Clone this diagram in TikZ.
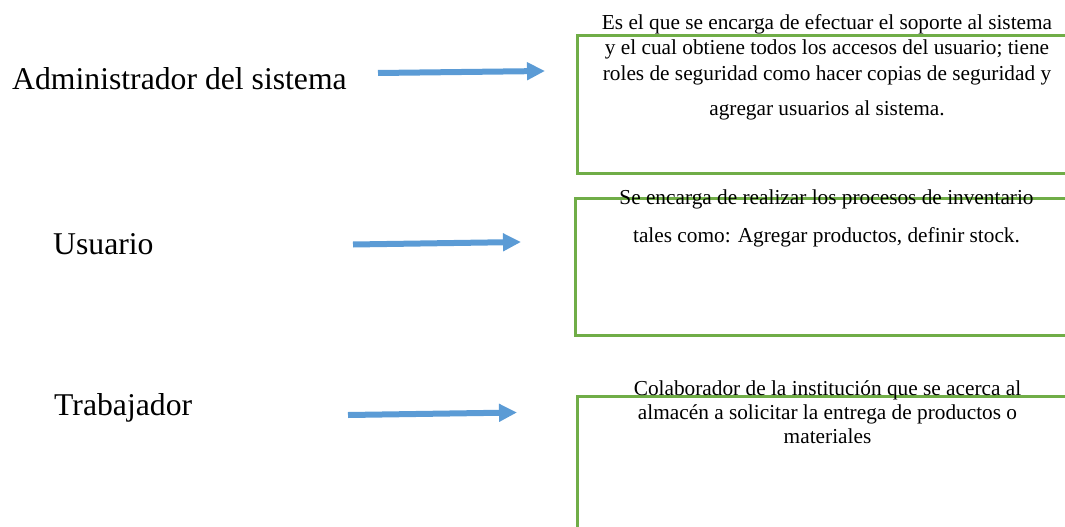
\documentclass[tikz,border=0pt]{standalone}
\usepackage{fontspec}
\setmainfont{Liberation Serif}
\usetikzlibrary{arrows.meta}
\definecolor{boxgreen}{HTML}{70AD47}
\definecolor{arrowblue}{HTML}{5B9BD5}
\begin{document}
\begin{tikzpicture}[x=1pt,y=-1pt,
  rolelabel/.style={anchor=base west,inner sep=0pt,font=\fontsize{31.7}{37}\selectfont},
  desc/.style={anchor=base,inner sep=0pt,align=center,font=\fontsize{21.3}{25.5}\selectfont},
  descbox/.style={draw=boxgreen,line width=3pt},
  rolearrow/.style={draw=arrowblue,line width=6pt,-{Triangle[length=18pt,width=17pt]}}]
\useasboundingbox (0,0) rectangle (1065,527);
\clip (0,0) rectangle (1065,527);
% boxes
\draw[descbox] (577,36) rectangle (1085,173);
\draw[descbox] (575,198) rectangle (1085,335);
\draw[descbox] (577,396) rectangle (1085,545);
% labels
\node[rolelabel] (adm) at (12,89) {Administrador del sistema};
\node[rolelabel] (usu) at (53,254) {Usuario};
\node[rolelabel] (trab) at (54,415) {Trabajador};
% descriptions (anchor = baseline of last line)
\node[desc] (d1) at (827,115) {Es el que se encarga de efectuar el soporte al sistema\\
y el cual obtiene todos los accesos del usuario; tiene\\
roles de seguridad como hacer copias de seguridad y\\[9.5pt]
agregar usuarios al sistema.};
\node[desc] (d2) at (826.5,242) {Se encarga de realizar los procesos de inventario\\[12pt]
tales como: Agregar productos, definir stock.};
\node[desc,font=\fontsize{21.3}{24}\selectfont] (d3) at (827.5,443) {Colaborador de la instituci\'on que se acerca al\\
almac\'en a solicitar la entrega de productos o\\
materiales};
% arrows
\coordinate (a1s) at (378,73);
\coordinate (a1e) at (545,71);
\coordinate (a2s) at (353,244.5);
\coordinate (a2e) at (521,242);
\coordinate (a3s) at (348,415);
\coordinate (a3e) at (517,412.5);
\draw[rolearrow] (a1s) -- (a1e);
\draw[rolearrow] (a2s) -- (a2e);
\draw[rolearrow] (a3s) -- (a3e);
\end{tikzpicture}
\end{document}
